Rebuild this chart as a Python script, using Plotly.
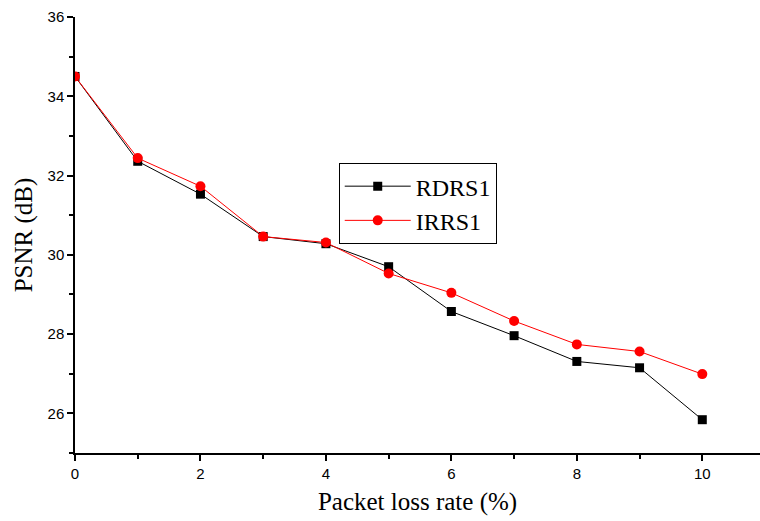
import plotly.graph_objects as go

# Packet loss rate (%) and PSNR (dB) for each scheme
loss_rate = [0, 1, 2, 3, 4, 5, 6, 7, 8, 9, 10]
psnr_rdrs1 = [34.50, 32.36, 31.53, 30.46, 30.28, 29.70, 28.57, 27.96, 27.31, 27.15, 25.84]
psnr_irrs1 = [34.50, 32.44, 31.73, 30.46, 30.31, 29.53, 29.04, 28.33, 27.74, 27.56, 26.99]

y_major = [26, 28, 30, 32, 34, 36]
x_major = [0, 2, 4, 6, 8, 10]

SERIF = "Liberation Serif"
SANS = "Liberation Sans"

fig = go.Figure()
fig.add_trace(go.Scatter(
    x=loss_rate, y=psnr_rdrs1, name="RDRS1", mode="lines+markers",
    line=dict(color="black", width=1),
    marker=dict(symbol="square", size=9, color="black"),
))
fig.add_trace(go.Scatter(
    x=loss_rate, y=psnr_irrs1, name="IRRS1", mode="lines+markers",
    line=dict(color="#ff0000", width=1),
    marker=dict(symbol="circle", size=10, color="#ff0000"),
))

axis_common = dict(
    showline=True, linecolor="black", linewidth=1.5, mirror=False,
    showgrid=False, zeroline=False,
    ticks="outside", ticklen=6, tickwidth=1.5, tickcolor="black",
    tickfont=dict(family=SANS, size=15, color="black"),
)

fig.update_xaxes(
    range=[0, 10.92], tickvals=x_major,
    minor=dict(tickvals=[1, 3, 5, 7, 9], ticks="outside", ticklen=4, tickwidth=1.5, tickcolor="black"),
    title=dict(text="Packet loss rate (%)", standoff=12,
               font=dict(family=SERIF, size=25, color="black")),
    **axis_common,
)
fig.update_yaxes(
    range=[25, 36], tickvals=y_major,
    minor=dict(tickvals=[25, 27, 29, 31, 33, 35], ticks="outside", ticklen=4, tickwidth=1.5, tickcolor="black"),
    title=dict(text="PSNR (dB)", standoff=8,
               font=dict(family=SERIF, size=25, color="black")),
    **axis_common,
)

fig.update_layout(
    width=760, height=521,
    margin=dict(l=75, r=0, t=17, b=68),
    paper_bgcolor="white", plot_bgcolor="white",
    showlegend=True,
    legend=dict(
        x=0.385, y=0.665, xanchor="left", yanchor="top",
        bgcolor="white", bordercolor="black", borderwidth=1,
        font=dict(family=SERIF, size=24, color="black"),
        itemwidth=66, tracegroupgap=0,
    ),
)

fig.write_html("out.html")
